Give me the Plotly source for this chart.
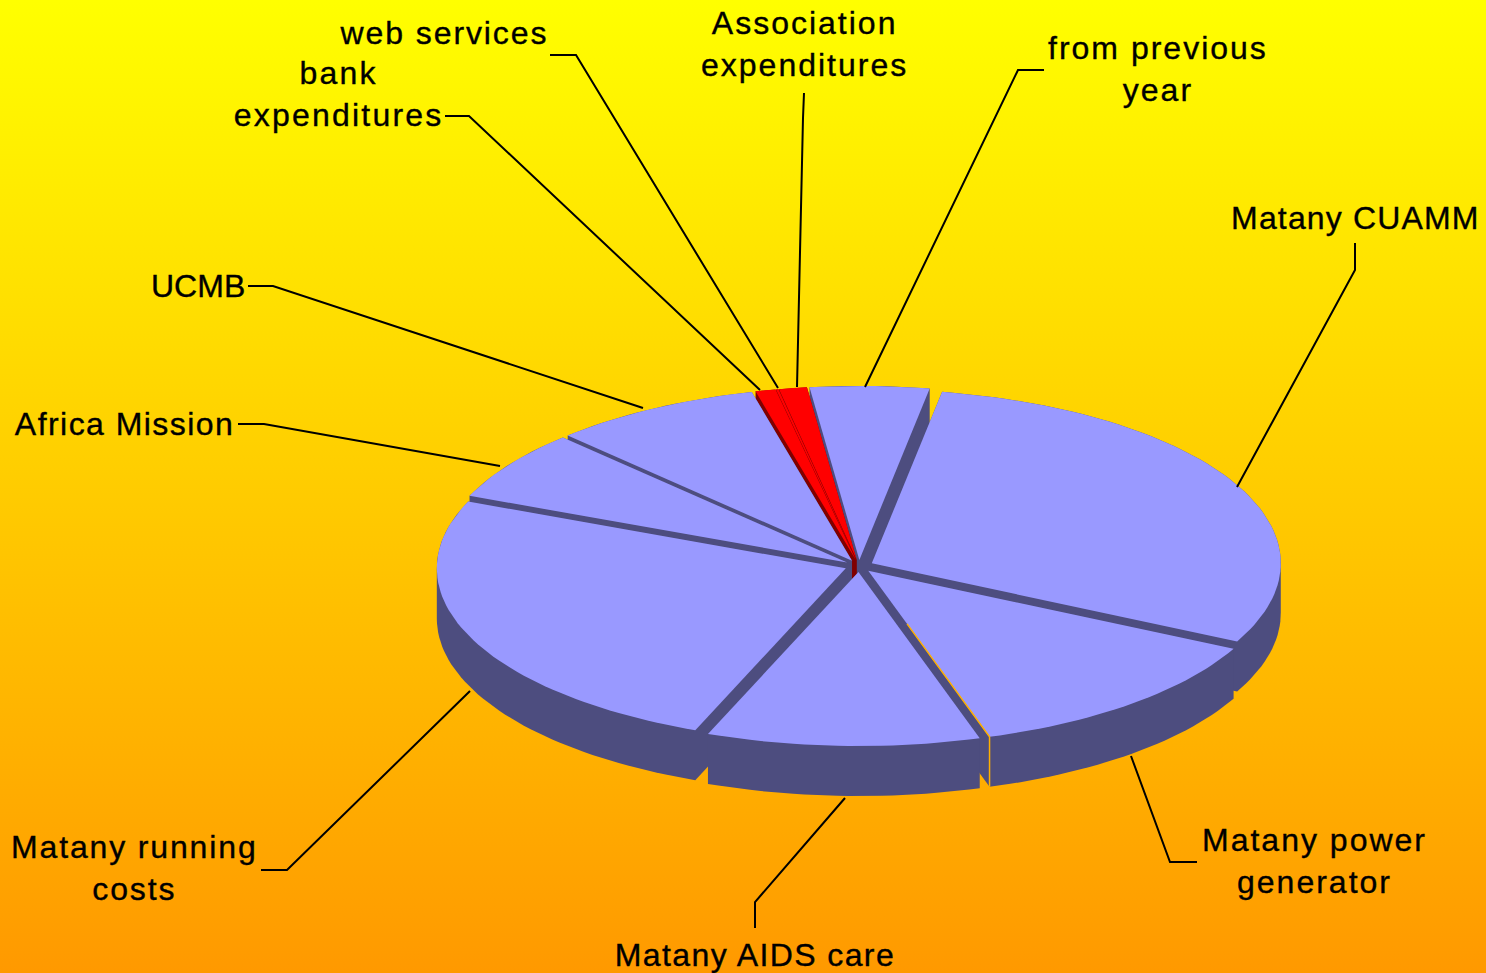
import json
import math
import plotly.graph_objects as go

# ---- data (percent shares) ----
categories = ["from previous year", "Matany CUAMM", "Matany power generator", "Matany AIDS care",
              "Matany running costs", "Africa Mission", "UCMB", "bank expenditures",
              "web services", "Association expenditures"]
values = [4.7, 29.7, 12.8, 10.8, 25.3, 6.5, 8.3, 0.8, 0.1, 1.1]
tops = ["#9999FF"] * 7 + ["#FF0000"] * 3
walls = ["#4D4D7F"] * 7 + ["#800000"] * 3
label_text = ["from previous<br>year", "Matany CUAMM", "Matany power<br>generator", "Matany AIDS care",
              "Matany running<br>costs", "Africa Mission", "UCMB", "bank<br>expenditures",
              "web services", "Association<br>expenditures"]
label_x = [1158, 1355, 1314, 755, 134, 124, 198, 338, 444, 804]
label_y = [69, 218, 861, 955, 868, 424, 286, 94, 33, 44]
label_spacing = [2.0, 1.15, 2.0, 1.4, 1.85, 1.45, 0, 2.2, 1.9, 2.0]
leader_x = [[1044, 1018, 865], [1355, 1355, 1237], [1197, 1170, 1131], [755, 755, 845],
            [261, 287, 470], [238, 264, 500], [248, 273, 643], [445, 469, 760],
            [550, 576, 778], [804, 803, 797]]
leader_y = [[70, 70, 387], [243, 270, 487], [862, 862, 756], [928, 902, 798],
            [870, 870, 691], [424, 424, 466], [286, 286, 408], [116, 116, 390],
            [55, 55, 388], [93, 118, 387]]

# ---- pie geometry ----
W, H = 1486, 973
CX, CY, RX, RY = 859, 566, 409, 174
DEPTH = 50
EXPLODE = 0.035
START = 10.0 - 17.0  # angle (deg, clockwise from top) where the first slice begins


def hull(points):
    pts = sorted(set(points))
    def half(seq):
        out = []
        for p in seq:
            while len(out) > 1 and ((out[-1][0] - out[-2][0]) * (p[1] - out[-2][1])
                                    - (out[-1][1] - out[-2][1]) * (p[0] - out[-2][0])) <= 0:
                out.pop()
            out.append(p)
        return out[:-1]
    return half(pts) + half(pts[::-1])


total = sum(values)
slices = []
a = START
for i, v in enumerate(values):
    sweep = v / total * 360
    mid = math.radians(a + sweep / 2)
    ax = CX + EXPLODE * RX * math.sin(mid)
    ay = CY - EXPLODE * RY * math.cos(mid)
    n = max(2, int(sweep / 1.5))
    poly = [(ax, ay)]
    for k in range(n + 1):
        t = math.radians(a + sweep * k / n)
        poly.append((ax + RX * math.sin(t), ay - RY * math.cos(t)))
    slices.append(dict(i=i, poly=poly, depth_key=-math.cos(mid)))
    a += sweep

fig = go.Figure()

# background gradient
fig.add_trace(go.Scatter(
    x=[0, W, W, 0, 0], y=[0, 0, H, H, 0], mode="lines", line=dict(width=0),
    fill="toself", hoverinfo="skip",
    fillgradient=dict(type="vertical", start=0, stop=H,
                      colorscale=[[0, "#FFFF00"], [1, "#FF9900"]]),
))

# painter's order: back slices first
for s in sorted(slices, key=lambda d: d["depth_key"]):
    i = s["i"]
    swept = hull(s["poly"] + [(x, y + DEPTH) for x, y in s["poly"]])
    swept.append(swept[0])
    fig.add_trace(go.Scatter(
        x=[p[0] for p in swept], y=[p[1] for p in swept], mode="lines",
        line=dict(width=0), fill="toself", fillcolor=walls[i], hoverinfo="skip",
    ))
    top = s["poly"] + [s["poly"][0]]
    fig.add_trace(go.Scatter(
        x=[p[0] for p in top], y=[p[1] for p in top], mode="lines",
        line=dict(width=0), fill="toself", fillcolor=tops[i],
        name=categories[i], hoverinfo="name",
    ))

# thin sliver of background along the edge of the power generator slice
power = slices[2]["poly"]
apex, rim = power[0], power[-1]
frac = 0.32
fig.add_trace(go.Scatter(
    x=[apex[0] + frac * (rim[0] - apex[0]), rim[0], rim[0]],
    y=[apex[1] + frac * (rim[1] - apex[1]), rim[1], rim[1] + DEPTH],
    mode="lines", line=dict(color="#FFB000", width=1.5), hoverinfo="skip",
))

# leader lines
for lx, ly in zip(leader_x, leader_y):
    fig.add_trace(go.Scatter(x=lx, y=ly, mode="lines", line=dict(color="#000000", width=2),
                             hoverinfo="skip"))

annotations = [
    dict(x=x, y=y, text=t, xref="x", yref="y", xanchor="center", yanchor="middle",
         showarrow=False, font=dict(family="Liberation Sans", size=32, color="#000000"))
    for x, y, t in zip(label_x, label_y, label_text)
]

fig.update_layout(
    width=W, height=H, margin=dict(l=0, r=0, t=0, b=0), showlegend=False,
    paper_bgcolor="#FFC800", plot_bgcolor="rgba(0,0,0,0)",
    xaxis=dict(range=[0, W], visible=False, fixedrange=True),
    yaxis=dict(range=[H, 0], visible=False, fixedrange=True),
    annotations=annotations,
)

# plotly has no letter-spacing attribute: apply the reference's wide tracking after drawing
post = (
    "document.body.style.margin='0';document.body.style.overflow='hidden';"
    "var sp=" + json.dumps(label_spacing) + ";"
    "document.querySelectorAll('.annotation-text').forEach(function(t,i){"
    "t.style.letterSpacing=sp[i]+'px';t.style.stroke='#000';t.style.strokeWidth='0.35px';});"
)
fig.write_html("out.html", config=dict(displayModeBar=False), post_script=post)
